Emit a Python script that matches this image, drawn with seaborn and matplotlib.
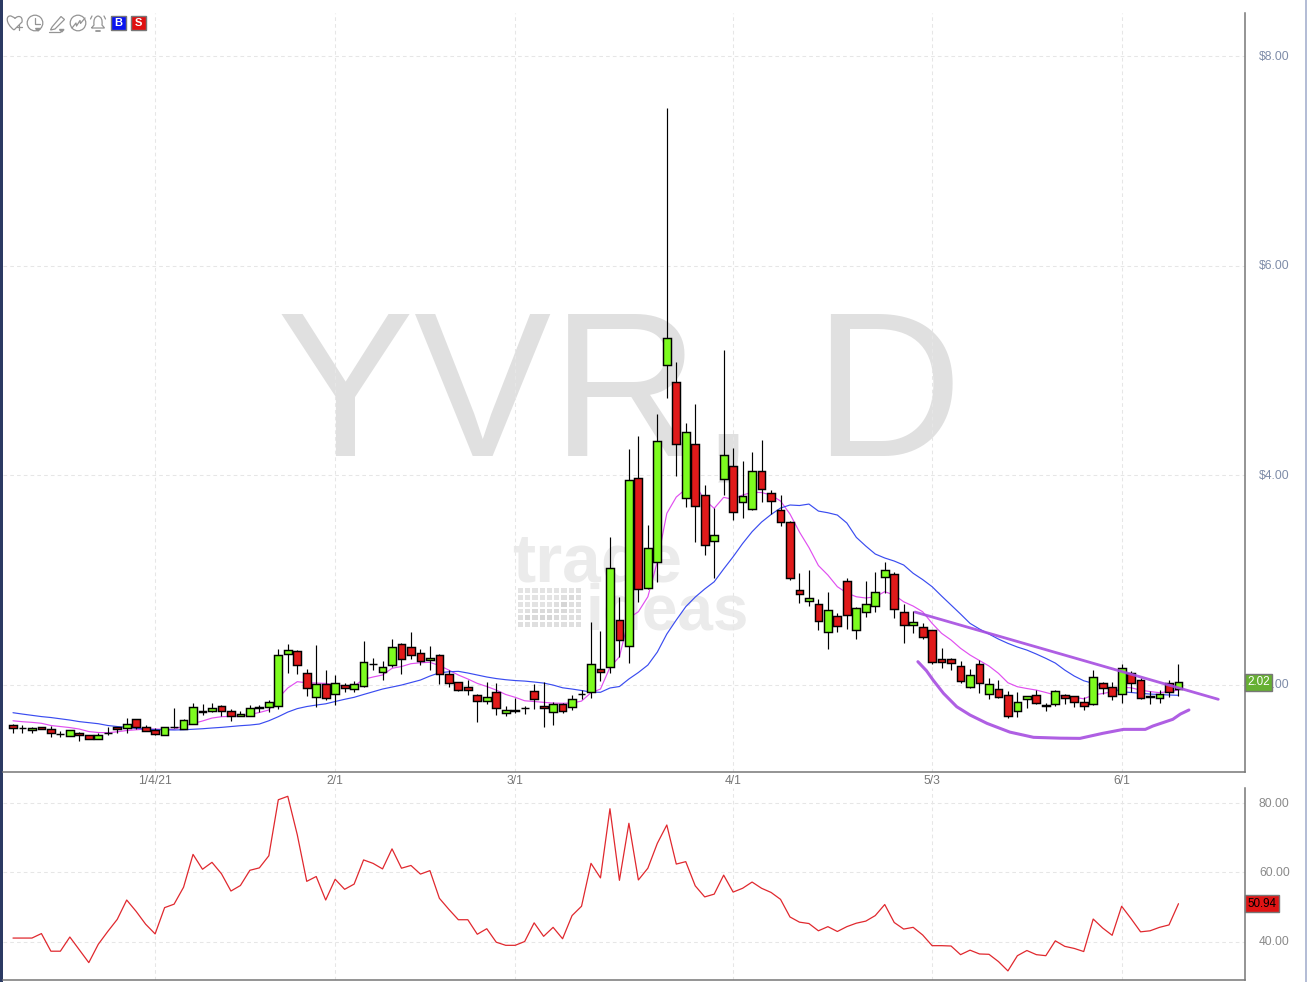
import numpy as np
import matplotlib
matplotlib.use("Agg")
import matplotlib.pyplot as plt
from matplotlib.patches import Rectangle, Circle, PathPatch
from matplotlib.path import Path
from matplotlib.transforms import ScaledTranslation
import seaborn as sns

# ---------- data ----------
opens = [1.610,1.582,1.563,1.590,1.578,1.530,1.505,1.540,1.515,1.477,1.541,1.591,1.582,1.668,1.591,1.563,1.515,1.598,1.572,1.620,
1.744,1.750,1.792,1.744,1.696,1.696,1.783,1.782,1.792,2.288,2.317,2.107,1.878,2.002,1.906,1.992,1.954,1.983,2.196,2.122,
2.183,2.384,2.355,2.298,2.231,2.279,2.097,2.021,1.973,1.897,1.840,1.926,1.725,1.754,1.773,1.935,1.792,1.735,1.811,1.782,
1.906,1.926,2.145,2.164,2.613,2.365,3.969,2.918,3.167,5.047,4.885,3.778,4.293,3.806,3.367,3.959,4.083,3.740,3.673,4.035,
3.825,3.663,3.549,2.899,2.794,2.766,2.498,2.651,2.985,2.517,2.689,2.747,3.023,3.052,2.689,2.565,2.546,2.517,2.241,2.241,
2.174,1.973,2.193,1.906,1.954,1.897,1.744,1.859,1.897,1.802,1.811,1.897,1.887,1.830,1.811,2.011,1.973,1.906,2.107,2.040,
1.888,1.868,2.011,1.954]
highs = [1.623,1.613,1.594,1.594,1.607,1.559,1.563,1.549,1.515,1.537,1.597,1.591,1.677,1.668,1.610,1.582,1.591,1.773,1.668,1.821,
1.811,1.821,1.801,1.763,1.744,1.801,1.801,1.849,2.336,2.384,2.327,2.145,2.374,2.136,2.088,2.011,2.031,2.412,2.250,2.221,
2.434,2.393,2.498,2.336,2.365,2.288,2.136,2.024,2.040,1.909,2.021,2.011,1.792,1.868,1.792,2.002,2.021,1.836,1.821,1.897,
1.945,2.594,2.508,3.405,2.832,4.245,4.370,3.520,4.580,7.504,5.076,4.494,4.675,3.902,3.682,5.191,4.255,4.131,4.217,4.331,
3.854,3.806,3.558,3.062,3.090,2.813,2.880,2.680,3.014,2.737,2.985,3.071,3.167,3.071,2.766,2.699,2.584,2.520,2.346,2.250,
2.221,2.145,2.231,2.059,2.040,1.935,1.926,1.890,1.945,1.821,1.945,1.906,1.890,1.878,2.136,2.021,2.021,2.193,2.126,2.059,
1.935,1.945,2.040,2.193]
lows = [1.540,1.540,1.540,1.575,1.502,1.502,1.505,1.463,1.477,1.477,1.521,1.540,1.540,1.572,1.553,1.515,1.515,1.582,1.572,1.620,
1.709,1.740,1.699,1.654,1.696,1.696,1.740,1.740,1.763,2.113,2.100,1.893,1.788,1.852,1.807,1.931,1.926,1.976,2.138,2.040,
2.167,2.097,2.241,2.186,2.138,2.008,1.979,1.935,1.897,1.639,1.811,1.706,1.696,1.725,1.715,1.763,1.591,1.610,1.725,1.754,
1.859,1.871,2.036,2.113,2.263,2.208,2.788,2.912,2.976,4.738,3.993,3.697,3.363,3.239,3.020,3.809,3.573,3.592,3.663,3.742,
3.631,3.510,2.995,2.775,2.747,2.525,2.342,2.501,2.533,2.437,2.647,2.695,2.871,2.638,2.399,2.495,2.437,2.199,2.160,2.141,
2.011,1.967,1.922,1.859,1.871,1.677,1.693,1.779,1.814,1.750,1.792,1.811,1.782,1.754,1.801,1.906,1.849,1.821,1.926,1.861,
1.811,1.821,1.878,1.887]
closes = [1.582,1.582,1.582,1.580,1.534,1.530,1.563,1.521,1.477,1.515,1.533,1.572,1.620,1.591,1.553,1.525,1.591,1.590,1.658,1.782,
1.736,1.773,1.744,1.696,1.715,1.773,1.775,1.830,2.279,2.327,2.183,1.964,2.002,1.868,2.017,1.964,2.002,2.212,2.196,2.164,
2.355,2.241,2.279,2.221,2.250,2.097,2.011,1.945,1.945,1.840,1.878,1.773,1.754,1.746,1.773,1.859,1.773,1.811,1.744,1.859,
1.906,2.193,2.116,3.109,2.422,3.950,2.909,3.300,4.322,5.305,4.293,4.408,3.701,3.329,3.424,4.188,3.644,3.797,4.035,3.864,
3.749,3.549,3.014,2.861,2.823,2.603,2.708,2.556,2.661,2.727,2.766,2.880,3.090,2.718,2.565,2.594,2.451,2.212,2.212,2.202,
2.031,2.088,2.011,2.002,1.878,1.696,1.830,1.887,1.821,1.794,1.935,1.868,1.830,1.792,2.069,1.964,1.887,2.155,2.011,1.868,
1.880,1.906,1.926,2.020]
ema_slow = [1.731,1.718,1.706,1.694,1.685,1.673,1.661,1.646,1.636,1.626,1.609,1.599,1.591,1.582,1.575,1.570,1.568,1.566,1.568,1.573,
1.578,1.585,1.591,1.599,1.607,1.613,1.623,1.654,1.693,1.737,1.770,1.790,1.804,1.816,1.838,1.859,1.878,1.905,1.931,1.957,
1.976,1.995,2.019,2.043,2.081,2.112,2.122,2.126,2.110,2.091,2.072,2.057,2.046,2.038,2.033,2.024,2.014,1.995,1.969,1.957,
1.943,1.928,1.926,1.967,1.981,2.053,2.115,2.186,2.310,2.482,2.616,2.743,2.835,2.912,2.981,3.103,3.220,3.346,3.459,3.551,
3.623,3.685,3.714,3.709,3.723,3.656,3.640,3.618,3.542,3.405,3.322,3.246,3.208,3.179,3.141,3.062,3.002,2.934,2.845,2.759,
2.673,2.584,2.530,2.482,2.434,2.393,2.358,2.329,2.291,2.250,2.205,2.138,2.081,2.036,2.011,1.986,1.957,1.931,1.924,1.916,
1.909,1.905,1.900,1.897]
ema_fast = [1.654,1.645,1.639,1.630,1.609,1.599,1.589,1.575,1.551,1.542,1.540,1.549,1.561,1.568,1.575,1.575,1.573,1.572,1.604,1.628,
1.652,1.680,1.693,1.696,1.699,1.714,1.733,1.757,1.871,1.967,2.027,2.017,2.014,2.011,1.995,1.986,1.986,2.050,2.072,2.091,
2.155,2.172,2.199,2.208,2.212,2.181,2.138,2.091,2.053,2.011,1.981,1.947,1.905,1.878,1.845,1.838,1.830,1.823,1.821,1.823,
1.842,1.922,1.957,2.164,2.265,2.635,2.695,2.838,3.172,3.634,3.790,3.866,3.905,3.761,3.682,3.787,3.768,3.809,3.835,3.833,
3.809,3.752,3.628,3.456,3.308,3.136,3.045,2.934,2.874,2.838,2.826,2.838,2.886,2.855,2.790,2.749,2.695,2.584,2.489,2.425,
2.346,2.282,2.229,2.177,2.107,2.017,1.979,1.962,1.947,1.924,1.900,1.887,1.878,1.864,1.900,1.914,1.931,1.973,1.969,1.947,
1.933,1.922,1.933,1.947]
rsi = [41,41,41,42.3,37.2,37.2,41.3,37.6,33.9,39.2,42.9,46.4,52,48.7,45,42.2,49.8,50.8,55.7,65.2,
60.9,62.9,59.6,54.6,56.2,60.6,61.3,64.8,81,82,70.9,57.4,58.8,52,58,55.1,56.6,63.6,62.6,61,
66.8,61.2,62,59.5,60.5,52.5,49.3,46.3,46.3,42.1,43.7,39.8,38.9,38.9,40,45.4,41.5,44.1,40.8,47.5,
50.2,62.6,58.4,78.4,57.7,74.2,57.8,61.2,68.4,73.7,62.4,63.1,56.1,52.9,53.7,59.2,54.3,55.4,57.2,55.4,
54.2,52.2,47.1,45.6,45.2,43.1,44.3,42.9,44.3,45.3,45.9,47.5,50.7,45.5,43.6,44.1,41.9,38.8,38.8,38.7,
36.2,37.5,36.4,36.3,34.2,31.5,35.9,37.4,36.2,35.9,40.2,38.6,38,37.1,46.5,43.9,41.8,50.2,46.6,42.8,
43.1,44.1,44.8,50.94]
date_pos = [15, 34, 53, 76, 97, 117]
date_labels = ["1/4/21", "2/1", "3/1", "4/1", "5/3", "6/1"]
price_ticks = [2, 4, 6, 8]
rsi_ticks = [40, 60, 80]
trend_x = [95.2, 127.2]
trend_y = [2.692, 1.859]
curve_x = [95.5,96.4,97.1,98.2,99.6,101,102.8,105.2,107.7,110.5,112.6,115,117.2,119.5,120.3,122.4,123.2,124.1]
curve_y = [2.218,2.132,2.043,1.916,1.788,1.709,1.629,1.546,1.496,1.488,1.486,1.534,1.572,1.572,1.604,1.668,1.718,1.757]
logo_levels = [[0,0,0,0,0,0,0,0,1],
               [0,0,0,0,0,0,1,2,1],
               [0,0,0,0,0,1,3,1,1],
               [0,1,2,2,2,2,2,1,1],
               [1,3,2,3,3,2,1,1,1],
               [1,1,1,1,1,1,1,1,1]]
assert all(len(a) == 124 for a in (opens, highs, lows, closes, ema_slow, ema_fast, rsi))

# ---------- setup ----------
W, H = 1307, 982
sns.set_theme(style="white")
plt.rcParams['font.family'] = ['Liberation Sans', 'DejaVu Sans']
fig = plt.figure(figsize=(W / 100, H / 100), dpi=100, facecolor='white')

def px_axes(l, t, r, b, **kw):
    return fig.add_axes([l / W, (H - b) / H, (r - l) / W, (b - t) / H], **kw)

bg = px_axes(0, 0, W, H, zorder=0)
bg.axis('off')
ax = px_axes(3, 13, 1245, 772, zorder=1)
ax2 = px_axes(3, 788, 1245, 980, zorder=1)
for a in (ax, ax2):
    a.patch.set_alpha(0)
    a.set_xlim(-1.055, 130.02)
    for s in ('left', 'top'):
        a.spines[s].set_visible(False)
    for s in ('right', 'bottom'):
        a.spines[s].set_color('#777777')
        a.spines[s].set_linewidth(1.1)
    a.grid(True, color='#e6e6e6', linestyle=(0, (3.5, 3)), linewidth=0.75)
    a.set_axisbelow(True)
    a.yaxis.tick_right()
ax.set_ylim(1.165, 8.411)
ax2.set_ylim(28.87, 84.4)

# ---------- watermarks ----------
bg.text(620, 456, "YVR, D", fontsize=148, color='#e0e0e0', ha='center', va='baseline')
wm = '#ebebeb'
bg.text(597, 582, "trade", fontsize=50, color=wm, fontweight='bold', ha='center', va='baseline')
bg.text(667, 629, "ideas", fontsize=46, color=wm, fontweight='bold', ha='center', va='baseline')
logo = np.array(logo_levels)
bg.pcolormesh(np.linspace(517, 582, logo.shape[1] + 1), np.linspace(587, 628, logo.shape[0] + 1), logo,
              cmap=sns.light_palette('#d6d6d6', as_cmap=True), vmin=-3, vmax=3,
              edgecolors='white', linewidth=1.2)
bg.set_xlim(0, W); bg.set_ylim(H, 0)

# ---------- candles ----------
idx = np.arange(len(opens))
o, h, l, c = map(np.array, (opens, highs, lows, closes))
colors = np.where(c > o, '#7dfc1f', '#e01a1a')
ax.vlines(idx, l, h, color='black', linewidth=0.85, zorder=3)
ax.bar(idx, np.abs(c - o), bottom=np.minimum(o, c), width=0.82, color=colors,
       edgecolor='black', linewidth=1.05, zorder=4)

sns.lineplot(x=idx, y=ema_fast, ax=ax, color='#e04ff0', linewidth=0.85, zorder=2, estimator=None)
sns.lineplot(x=idx, y=ema_slow, ax=ax, color='#3a4cf0', linewidth=0.85, zorder=2, estimator=None)
sns.lineplot(x=trend_x, y=trend_y, ax=ax, color='#a64de0', linewidth=2.0, alpha=0.9, zorder=6, estimator=None)
sns.lineplot(x=curve_x, y=curve_y, ax=ax, color='#a64de0', linewidth=2.2, alpha=0.9, zorder=6, estimator=None, sort=False)

ax.set_xticks(date_pos)
ax.set_xticklabels(date_labels, fontsize=8.7, color='#777777')
ax.tick_params(axis='x', length=0, pad=2.2)
ax.set_yticks(price_ticks)
ax.set_yticklabels([f"${v:.2f}" for v in price_ticks], fontsize=8.7, color='#7e8ca8')
ax.tick_params(axis='y', length=0, pad=10)
ax.set_xlabel(''); ax.set_ylabel('')

# ---------- RSI ----------
sns.lineplot(x=idx, y=rsi, ax=ax2, color='#e0282e', linewidth=0.9, zorder=3, estimator=None)
ax2.set_xticks(date_pos)
ax2.set_xticklabels([])
ax2.set_xticks(np.arange(-1, 131), minor=True)
ax2.tick_params(axis='x', which='major', length=2, color='#777777', width=0.8)
ax2.tick_params(axis='x', which='minor', length=2, color='#777777', width=0.8)
ax2.set_yticks(rsi_ticks)
ax2.set_yticklabels([f"{v:.2f}" for v in rsi_ticks], fontsize=8.7, color='#8a8a8a')
ax2.tick_params(axis='y', length=0, pad=10)
ax2.set_xlabel(''); ax2.set_ylabel('')
up = ScaledTranslation(0, 1 / 100, fig.dpi_scale_trans)
for a in (ax, ax2):
    for t in a.get_yticklabels():
        t.set_transform(t.get_transform() + up)

# ---------- value flags ----------
ax.annotate(f"{closes[-1]:.2f}", xy=(1, closes[-1]), xycoords=('axes fraction', 'data'), xytext=(1.7, 0),
            textcoords='offset points', va='center', ha='left', fontsize=8.4, color='white', zorder=8,
            annotation_clip=False,
            bbox=dict(boxstyle='square,pad=0.2', facecolor='#66b032', edgecolor='#777777', linewidth=1))
ax2.annotate(f"{rsi[-1]:.2f}", xy=(1, rsi[-1]), xycoords=('axes fraction', 'data'), xytext=(1.7, 0),
             textcoords='offset points', va='center', ha='left', fontsize=8.4, color='black', zorder=8,
             annotation_clip=False,
             bbox=dict(boxstyle='square,pad=0.2', facecolor='#e01414', edgecolor='#777777', linewidth=1))

# ---------- window edges ----------
fig.add_artist(Rectangle((0, 0), 2.5 / W, 1, transform=fig.transFigure, facecolor='#2b3a63', edgecolor='none'))
fig.add_artist(Rectangle((1305 / W, 0), 2 / W, 1, transform=fig.transFigure, facecolor='#b4bdd6', edgecolor='none'))

# ---------- toolbar icons ----------
ic = '#949494'
lw = 0.9
def curve(verts, codes=None):
    bg.add_patch(PathPatch(Path(verts, codes), facecolor='none', edgecolor=ic, linewidth=lw))
# heart with plus
curve([(14, 30), (5, 23), (6, 15), (11, 16), (14, 17.5), (15, 18.5), (18, 15), (23, 16), (22, 22), (14, 30)],
      [Path.MOVETO, Path.CURVE4, Path.CURVE4, Path.CURVE4, Path.LINETO, Path.LINETO, Path.CURVE4, Path.CURVE4, Path.CURVE4, Path.LINETO])
bg.plot([16.5, 21.5], [27, 27], color=ic, lw=lw); bg.plot([19, 19], [24.5, 29.5], color=ic, lw=lw)
# clock
bg.add_patch(Circle((35, 23), 7.8, facecolor='none', edgecolor=ic, linewidth=lw))
bg.plot([35, 35, 40], [18, 24, 24], color=ic, lw=lw)
bg.fill([35.5, 40.5, 38], [28.5, 28.5, 31], color=ic)
# pencil
curve([(52, 27), (61, 16.5), (64.5, 19.5), (55, 29), (50.5, 30), (52, 27)])
bg.plot([49, 60], [32, 32], color=ic, lw=lw)
bg.fill([59.5, 64, 61.7], [29.5, 29.5, 32], color=ic)
# chart in circle
bg.add_patch(Circle((78, 23), 7.8, facecolor='none', edgecolor=ic, linewidth=lw))
bg.plot([72, 76, 76.5, 80, 80.5, 85], [28, 23, 26, 20.5, 23.5, 18], color=ic, lw=lw)
# bell
curve([(91.5, 28), (94, 25), (93, 17), (98, 16), (103, 17), (102, 25), (104.5, 28), (91.5, 28)],
      [Path.MOVETO, Path.LINETO, Path.CURVE3, Path.CURVE3, Path.CURVE3, Path.CURVE3, Path.LINETO, Path.LINETO])
bg.plot([96, 100], [30.5, 30.5], color=ic, lw=1.3)
bg.plot([92, 90.5], [16, 19], color=ic, lw=lw); bg.plot([104, 105.5], [16, 19], color=ic, lw=lw)
# B / S buttons
for x0, col, s in ((111, '#0a14f0', 'B'), (131, '#e01010', 'S')):
    bg.add_patch(Rectangle((x0, 15.5), 15, 14.5, facecolor=col, edgecolor='#777777', linewidth=1))
    bg.text(x0 + 7.5, 23, s, color='white', fontsize=8, fontweight='bold', ha='center', va='center')
bg.set_xlim(0, W); bg.set_ylim(H, 0)

fig.savefig('out.png', dpi=100, facecolor='white')
